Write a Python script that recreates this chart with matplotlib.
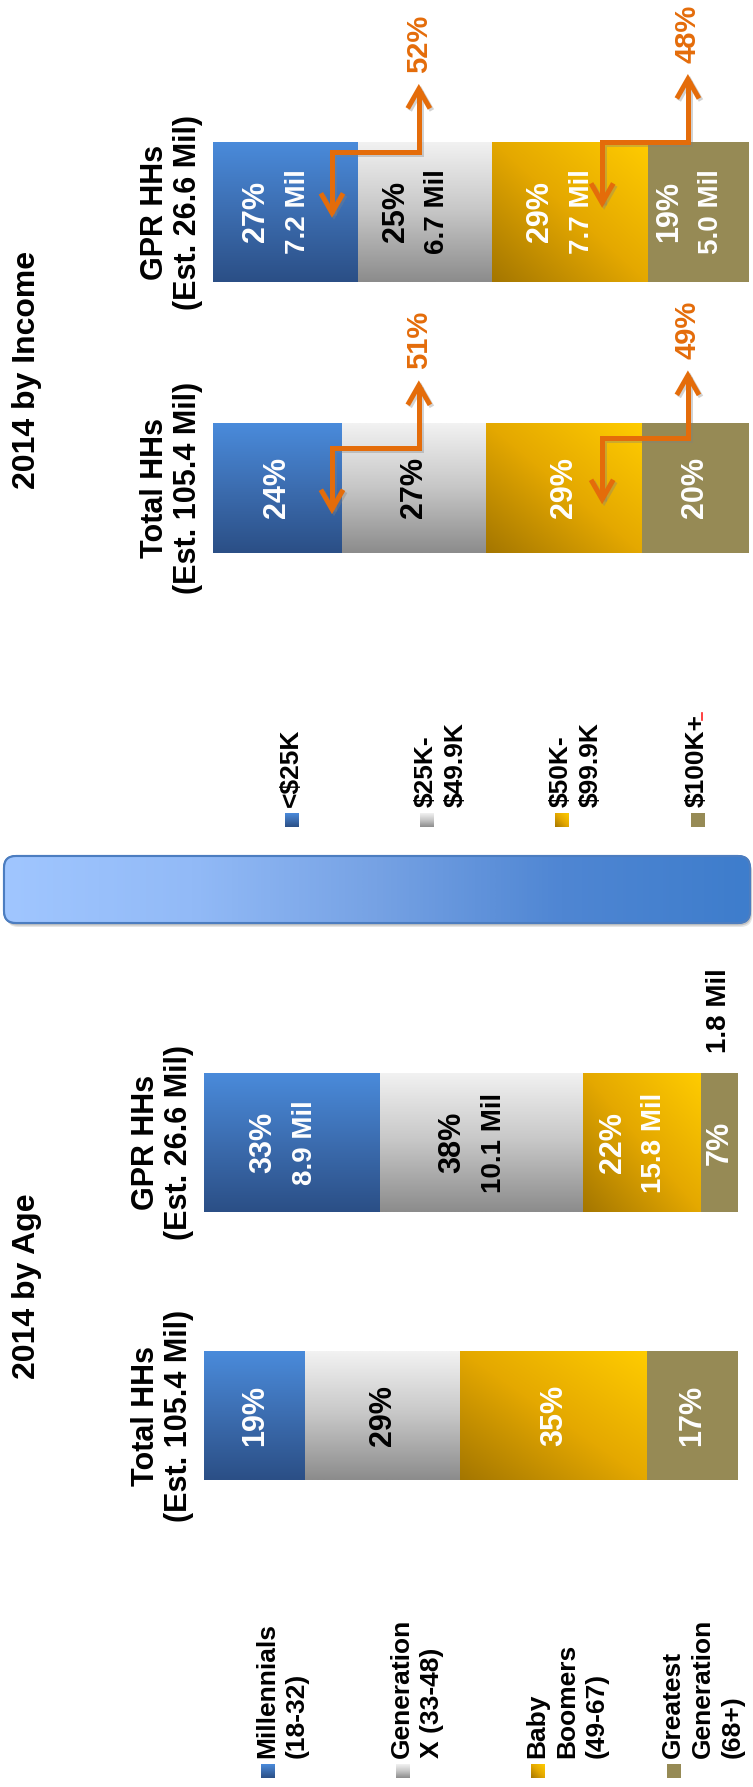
import numpy as np
import matplotlib
matplotlib.use('Agg')
import matplotlib.pyplot as plt
from matplotlib.colors import LinearSegmentedColormap
from matplotlib.patches import FancyBboxPatch, FancyArrowPatch, Rectangle
from matplotlib.path import Path
from matplotlib.transforms import ScaledTranslation

plt.rcParams['font.family'] = ['Liberation Sans', 'DejaVu Sans']
plt.rcParams['font.weight'] = 'bold'

# ---- data ----
bar_names      = ['Total HHs\n(Est. 105.4 Mil)', 'GPR HHs\n(Est. 26.6 Mil)']
age_groups     = ['Millennials\n(18-32)', 'Generation\nX (33-48)',
                  'Baby\nBoomers\n(49-67)', 'Greatest\nGeneration\n(68+)']
age_total      = [19, 29, 35, 17]
age_gpr        = [33, 38, 22, 7]
age_gpr_mil    = ['8.9 Mil', '10.1 Mil', '15.8 Mil', '1.8 Mil']
income_groups  = ['<$25K', '$25K-\n$49.9K', '$50K-\n$99.9K', '$100K+']
inc_total      = [24, 27, 29, 20]
inc_gpr        = [27, 25, 29, 19]
inc_gpr_mil    = ['7.2 Mil', '6.7 Mil', '7.7 Mil', '5.0 Mil']

# ---- style ----
flat      = ['#3B6DB2', '#C8C8C8', '#E2A600', '#968A55']
cmaps     = [LinearSegmentedColormap.from_list('b', ['#2B4F86', '#3C6DB0', '#4A8BDB']),
             LinearSegmentedColormap.from_list('g', ['#8C8C8C', '#C6C6C6', '#F2F2F2']),
             LinearSegmentedColormap.from_list('y', ['#A47600', '#E4A800', '#FFCC00']),
             None]
kinds     = ['v', 'v', 'd', None]
txt_col   = ['white', 'black', 'white', 'white']
orange    = '#E46C0A'
bar_h     = [0.47, 0.51]

W, H = 753, 1787
fig = plt.figure(figsize=(W / 100, H / 100), dpi=100)

ax0 = fig.add_axes([0, 0, 1, 1])
ax0.set_xlim(0, W)
ax0.set_ylim(H, 0)
ax0.axis('off')


def grad_fill(ax, patch, cmap, kind, flip=False):
    lin = np.linspace(0, 1, 128)
    if kind == 'v':
        arr = lin[:, None] * np.ones((1, 2))
    elif kind == 'h':
        arr = np.ones((2, 1)) * lin[None, :]
    else:
        X, Y = np.meshgrid(lin, lin)
        arr = (X + Y) / 2
    bb = patch.get_bbox()
    ext = (bb.x0, bb.x1, bb.y1, bb.y0) if flip else (bb.x0, bb.x1, bb.y0, bb.y1)
    im = ax.imshow(arr, extent=ext, origin='lower', cmap=cmap, aspect='auto',
                   interpolation='bilinear', zorder=patch.get_zorder() + 0.1)
    im.set_clip_path(patch)


def draw_panel(rect, total, gpr, gpr_mil, arrows=False):
    ax = fig.add_axes(rect)
    ax.set_xlim(0, 100)
    ax.set_ylim(-0.6, 1.6)
    ax.axis('off')
    ypos = [0, 1]
    cum = np.zeros(2)
    for i in range(4):
        vals = [total[i], gpr[i]]
        bc = ax.barh(ypos, vals, left=cum, height=bar_h, color=flat[i], zorder=2)
        if cmaps[i] is not None:
            for r in bc.patches:
                grad_fill(ax, r, cmaps[i], kinds[i])
        c0 = cum[0] + total[i] / 2
        c1 = cum[1] + gpr[i] / 2
        ax.text(c0, 0, f'{total[i]}%', rotation=90, ha='center', va='center',
                rotation_mode='anchor', color=txt_col[i], fontsize=22, zorder=5)
        if gpr[i] >= 12:
            ax.annotate(f'{gpr[i]}%', xy=(c1, 1), xytext=(-21, 0), textcoords='offset points',
                        rotation=90, ha='center', va='center', rotation_mode='anchor',
                        color=txt_col[i], fontsize=22, zorder=5)
            ax.annotate(gpr_mil[i], xy=(c1, 1), xytext=(9, 0), textcoords='offset points',
                        rotation=90, ha='center', va='center', rotation_mode='anchor',
                        color=txt_col[i], fontsize=20, zorder=5)
        else:
            ax.text(c1, 1, f'{gpr[i]}%', rotation=90, ha='center', va='center',
                    rotation_mode='anchor', color=txt_col[i], fontsize=22, zorder=5)
            ax.annotate(gpr_mil[i], xy=(c1, 1 + bar_h[1] / 2), xytext=(0, 14),
                        textcoords='offset points', rotation=90, ha='left', va='center',
                        rotation_mode='anchor', color='black', fontsize=20)
        cum += vals

    for j, name in enumerate(bar_names):
        ax.annotate(name, xy=(0, ypos[j]), xytext=(-7, 0), textcoords='offset points',
                    rotation=90, ha='center', va='bottom', rotation_mode='anchor',
                    fontsize=22, linespacing=1.15, annotation_clip=False)

    if arrows:
        # elbow connectors summing the two lower / two upper groups
        arrow_x = [(22.2, 38.4), (72.6, 88.6)]
        drop = [0.09, 0.036]
        shadow = ax.transData + ScaledTranslation(2 / 100, -2 / 100, fig.dpi_scale_trans)
        for j, vals in enumerate([total, gpr]):
            top = ypos[j] + bar_h[j] / 2
            sums = [vals[0] + vals[1], vals[2] + vals[3]]
            for k, (xd, xu) in enumerate(arrow_x):
                elbow = top - drop[j] + 0.036 * k
                down, up = elbow - 0.24, elbow + 0.245
                p = Path([(xd, down), (xd, elbow), (xu, elbow), (xu, up)])
                for tr, col, al in [(shadow, '#808080', 0.35), (ax.transData, orange, 1)]:
                    fa = FancyArrowPatch(path=p, arrowstyle='<->,head_length=0.7,head_width=0.4',
                                         mutation_scale=20, lw=3.6, color=col, alpha=al,
                                         transform=tr, zorder=6, joinstyle='miter',
                                         capstyle='butt')
                    ax.add_patch(fa)
                ax.annotate(f'{sums[k]}%', xy=(xu, up), xytext=(0, 8), textcoords='offset points',
                            rotation=90, ha='left', va='center', rotation_mode='anchor',
                            color=orange, fontsize=21, annotation_clip=False)
    return ax


# age panel: Total at y=0 (img 1415.5), GPR at y=1 (img 1142.5), 273 px per unit
draw_panel([204 / W, (H - 1579.3) / H, 534 / W, 600.6 / H], age_total, age_gpr, age_gpr_mil)
# income panel: Total at img 488, GPR at img 212, 276 px per unit
draw_panel([213 / W, (H - 653.6) / H, 536 / W, 607.2 / H], inc_total, inc_gpr, inc_gpr_mil,
           arrows=True)

# titles
ax0.text(35, 1286, '2014 by Age', rotation=90, ha='center', va='baseline',
         rotation_mode='anchor', fontsize=23)
ax0.text(35, 370, '2014 by Income', rotation=90, ha='center', va='baseline',
         rotation_mode='anchor', fontsize=23)

# banner
for off, al in [(4, 0.10), (2.5, 0.15)]:
    ax0.add_patch(FancyBboxPatch((4 + off * 0.6, 856 + off), 746, 67,
                                 boxstyle='round,pad=0,rounding_size=12',
                                 fc='black', ec='none', alpha=al, zorder=1))
banner = FancyBboxPatch((4, 856), 746, 67, boxstyle='round,pad=0,rounding_size=12',
                        fc='#7FA8E8', ec='#4C7DC0', lw=1.5, zorder=2)
ax0.add_patch(banner)
grad_fill(ax0, banner, LinearSegmentedColormap.from_list(
    'bn', ['#A0C6FF', '#92BAF7', '#76A2E4', '#4F86D3', '#3E7DCC']), 'h', flip=True)
ax0.add_patch(FancyBboxPatch((4, 856), 746, 67, boxstyle='round,pad=0,rounding_size=12',
                             fc='none', ec='#4C7DC0', lw=1.5, zorder=3))


# legends
def legend(labels, xs, y_sq, y_txt):
    for i, lab in enumerate(labels):
        sq = Rectangle((xs[i], y_sq), 14, 14, fc=flat[i], ec='none', zorder=2)
        ax0.add_patch(sq)
        if cmaps[i] is not None:
            grad_fill(ax0, sq, cmaps[i], kinds[i], flip=True)
        for k, line in enumerate(lab.split('\n')):
            ax0.text(xs[i] + 6 + 30 * k, y_txt, line, rotation=90, ha='left', va='center',
                     rotation_mode='anchor', fontsize=19)


legend(age_groups, [261, 396, 531, 667], 1764, 1758)
legend(income_groups, [285, 420, 555, 691], 813, 807)
ax0.plot([702, 702], [713, 720], color='#FF2020', lw=1.2)

fig.savefig('out.png', dpi=100, facecolor='white')
